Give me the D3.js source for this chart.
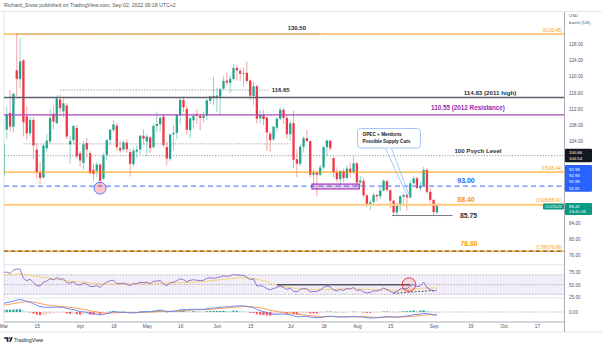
<!DOCTYPE html>
<html>
<head>
<meta charset="utf-8">
<title>Crude Oil WTI – Daily</title>
<script src="https://cdn.jsdelivr.net/npm/d3@7/dist/d3.min.js"></script>
<style>
  html, body { margin: 0; padding: 0; background: #ffffff; }
  svg { display: block; font-family: "Liberation Sans", Arial, "DejaVu Sans", sans-serif; }
</style>
</head>
<body>
<svg id="chart" width="602" height="346"></svg>
<script>
// ---------------- daily sessions, 1 Mar – 2 Sep 2022 ----------------
const open = [95.7,106.9,111.0,107.6,121.5,119.4,124.0,110.2,106.0,109.3,
  102.0,96.3,95.1,102.3,104.0,110.8,108.5,114.3,111.4,112.8,
  103.3,104.3,107.3,101.1,98.7,103.6,101.1,97.0,96.8,98.3,
  94.8,100.7,104.4,106.8,107.9,102.4,102.0,103.7,101.4,98.4,
  101.5,102.0,105.4,104.0,105.0,102.6,107.8,108.2,110.1,102.6,
  99.7,105.8,106.1,110.5,114.2,112.0,106.8,109.2,110.8,110.3,
  109.8,110.4,114.0,115.2,114.9,115.0,117.0,119.0,118.4,119.4,
  122.1,121.4,120.7,120.9,119.0,115.2,117.6,109.7,110.5,109.9,
  105.9,104.5,107.4,109.6,111.8,109.8,105.8,108.5,99.6,98.5,
  102.7,104.8,104.1,95.8,96.3,95.8,97.6,102.6,104.2,99.9,
  96.4,94.7,96.7,95.0,97.3,96.4,98.6,93.9,94.3,90.7,
  88.5,89.1,90.8,90.5,91.9,94.2,92.0,89.4,86.5,88.1,
  90.4,90.9,90.2,93.7,94.9,92.5,93.1,97.0,91.6,89.6,
  86.5];
const high = [106.8,112.5,116.6,116.0,130.5,129.4,124.3,112.6,110.0,110.0,
  103.5,99.0,103.5,105.8,112.0,112.8,115.4,115.6,114.6,113.5,
  105.5,108.0,108.0,101.6,104.1,104.9,101.7,98.5,98.9,98.5,
  101.2,104.6,107.0,109.2,108.6,104.2,104.3,104.5,102.1,102.5,
  103.0,105.6,107.0,105.8,105.4,108.4,111.4,110.2,110.8,103.9,
  106.0,108.0,110.6,114.8,115.0,112.8,110.0,111.0,111.9,110.5,
  111.3,114.4,115.3,119.9,117.2,117.1,120.0,121.0,120.3,123.0,
  122.7,122.0,122.2,123.7,119.3,118.6,118.0,111.8,111.8,110.0,
  106.5,107.8,110.0,112.5,112.2,110.5,109.0,111.5,102.0,103.2,
  105.3,106.9,104.3,97.3,96.7,98.2,102.8,104.5,104.3,100.1,
  97.6,97.0,97.3,98.1,98.7,100.4,98.9,95.4,95.1,91.1,
  89.6,91.4,91.0,92.9,94.7,94.4,92.2,89.6,88.9,90.7,
  91.2,91.1,94.4,95.5,95.3,94.0,97.7,97.4,92.5,89.7,
  88.6];
const low = [95.1,104.5,106.5,106.3,115.2,117.0,105.3,104.5,105.2,99.8,
  94.9,93.5,94.9,101.5,103.5,107.0,108.3,110.9,110.0,104.6,
  98.5,103.3,99.8,97.8,97.0,100.0,95.8,94.3,95.2,92.9,
  94.5,99.3,103.1,106.3,101.8,101.2,101.6,101.2,95.3,97.8,
  99.9,100.7,103.2,100.3,101.1,102.2,106.3,106.4,102.5,98.2,
  99.2,101.8,104.5,108.2,111.2,105.6,104.8,107.0,108.3,106.7,
  108.6,109.2,113.2,113.0,111.2,110.5,116.8,117.8,115.9,118.9,
  119.0,118.9,117.6,118.3,114.1,113.0,108.4,108.5,108.0,101.7,
  101.5,104.1,106.5,109.3,108.3,104.6,104.1,97.4,95.1,98.0,
  101.3,103.6,95.1,93.3,90.6,95.4,97.1,100.4,101.8,95.0,
  93.9,93.0,94.0,94.7,95.1,95.9,93.0,92.8,90.2,87.9,
  87.0,88.2,89.2,89.8,91.7,91.6,87.6,85.7,85.8,86.9,
  88.6,86.9,89.9,93.3,92.3,91.7,92.9,91.1,88.9,85.8,
  86.2];
const close = [103.4,110.6,107.7,115.7,119.4,123.7,108.7,106.0,109.3,103.0,
  96.4,95.0,103.0,104.2,109.8,108.9,114.6,112.2,113.4,105.2,
  104.1,107.8,100.3,99.3,103.3,102.0,96.2,96.0,98.3,94.3,
  100.6,104.3,106.9,108.2,102.6,101.8,103.8,102.1,98.5,101.7,
  102.0,105.4,104.7,105.2,102.4,107.8,108.3,109.8,103.1,99.8,
  105.7,106.1,110.5,114.2,112.4,106.9,109.7,110.3,110.3,109.8,
  110.3,114.1,115.1,114.7,115.3,116.9,118.9,118.5,119.4,122.1,
  121.5,120.7,120.9,118.9,115.3,117.6,109.6,110.5,109.5,106.2,
  104.3,107.6,109.6,111.8,109.8,105.8,108.4,99.5,98.5,102.7,
  104.8,104.1,95.8,96.3,95.8,97.6,102.6,104.2,102.3,96.4,
  94.7,96.7,95.0,97.3,96.4,98.6,93.9,94.4,90.7,88.5,
  89.0,90.8,90.5,91.9,94.3,92.1,89.4,86.5,88.1,90.5,
  90.8,90.2,93.7,94.9,92.5,93.1,97.0,91.6,89.6,86.6,
  88.4];

// RSI(14) and its moving average
const rsi = [75,76,73,80,82,82,63,58,61,54,
  48,47,55,57,62,60,64,61,62,54,
  53,56,50,49,53,51,46,46,48,44,
  51,55,58,59,52,52,53,51,48,52,
  52,55,54,55,52,57,57,59,51,48,
  54,55,58,62,60,56,59,60,59,58,
  59,63,64,63,64,66,68,67,68,71,
  70,69,69,65,60,62,47,48,46,42,
  39,42,44,47,44,40,43,36,35,40,
  42,41,35,36,36,39,44,47,45,39,
  37,40,38,42,41,44,38,39,35,33,
  34,37,37,39,43,40,36,33,36,41,
  42,41,48,50,46,47,55,44,40,36,
  39];
const rsiMa = [70,70,71,71,72,72,71,70,69,68,
  67,66,65,64,63,62,61,60,59,58,
  57,56,56,55,55,54,53,53,52,52,
  51,51,51,51,51,51,51,51,51,51,
  52,52,52,52,52,53,53,53,53,53,
  53,53,53,54,54,54,55,55,55,56,
  56,57,58,59,59,60,61,62,62,63,
  63,64,64,64,63,62,61,60,58,57,
  53,51,49,47,46,45,44,43,42,41,
  41,41,40,40,40,40,40,40,40,40,
  41,41,41,41,41,41,41,41,40,40,
  40,40,39,39,39,39,39,38,38,38,
  39,39,40,41,41,42,43,43,43,43,
  43];

// MACD(12,26,9): line, signal, histogram
const macdLine = [6.0,6.8,7.2,7.8,8.5,9.0,8.4,7.6,7.0,6.0,
  4.8,3.8,3.5,3.3,3.4,3.3,3.5,3.4,3.3,2.6,
  2.0,1.8,1.0,0.3,0.1,-0.2,-0.9,-1.4,-1.6,-2.1,
  -1.8,-1.2,-0.5,0.2,0.0,-0.2,-0.2,-0.3,-0.7,-0.6,
  -0.5,-0.1,0.1,0.3,0.2,0.6,1.0,1.4,1.0,0.3,
  0.4,0.5,0.9,1.6,1.9,1.8,1.9,2.0,2.0,1.9,
  1.9,2.3,2.7,2.9,3.1,3.3,3.6,3.7,3.8,4.2,
  4.4,4.4,4.4,4.1,3.4,3.0,1.8,1.0,0.3,-0.6,
  -1.3,-1.6,-1.6,-1.4,-1.4,-1.8,-1.9,-2.8,-3.4,-3.4,
  -3.2,-3.1,-3.6,-3.9,-4.1,-4.0,-3.6,-3.2,-3.0,-3.2,
  -3.5,-3.5,-3.6,-3.5,-3.4,-3.2,-3.4,-3.4,-3.7,-4.1,
  -4.3,-4.2,-4.1,-3.9,-3.5,-3.3,-3.4,-3.7,-3.7,-3.4,
  -3.1,-2.9,-2.4,-1.9,-1.7,-1.5,-1.0,-1.2,-1.5,-2.0,
  -2.2];
const macdSignal = [4.8,5.2,5.6,6.0,6.5,7.0,7.3,7.4,7.3,7.1,
  6.7,6.1,5.6,5.1,4.7,4.4,4.2,4.0,3.8,3.6,
  3.3,3.0,2.6,2.2,1.8,1.4,0.9,0.5,0.1,-0.4,
  -0.7,-0.8,-0.8,-0.6,-0.5,-0.4,-0.4,-0.3,-0.4,-0.4,
  -0.4,-0.4,-0.3,-0.2,-0.1,0.0,0.2,0.4,0.5,0.5,
  0.5,0.5,0.5,0.7,0.9,1.1,1.3,1.4,1.5,1.6,
  1.7,1.8,1.9,2.1,2.3,2.5,2.7,2.9,3.1,3.3,
  3.5,3.7,3.9,4.0,3.9,3.7,3.4,3.0,2.5,1.9,
  1.3,0.8,0.4,0.0,-0.3,-0.6,-0.8,-1.1,-1.5,-1.9,
  -2.2,-2.4,-2.6,-2.9,-3.1,-3.3,-3.4,-3.4,-3.3,-3.3,
  -3.3,-3.4,-3.4,-3.4,-3.4,-3.4,-3.4,-3.4,-3.4,-3.5,
  -3.7,-3.8,-3.9,-3.9,-3.8,-3.7,-3.6,-3.6,-3.6,-3.6,
  -3.5,-3.4,-3.2,-3.0,-2.7,-2.5,-2.2,-2.0,-1.9,-1.9,
  -2.0];
const macdHist = [1.2,1.6,1.6,1.8,2.0,2.0,1.1,0.2,-0.3,-1.1,
  -1.9,-2.3,-2.1,-1.8,-1.3,-1.1,-0.7,-0.6,-0.5,-1.0,
  -1.3,-1.2,-1.6,-1.9,-1.7,-1.6,-1.8,-1.9,-1.7,-1.7,
  -1.1,-0.4,0.3,0.8,0.5,0.2,0.2,0.0,-0.3,-0.2,
  -0.1,0.3,0.4,0.5,0.3,0.6,0.8,1.0,0.5,-0.2,
  -0.1,0.0,0.4,0.9,1.0,0.7,0.6,0.6,0.5,0.3,
  0.2,0.5,0.8,0.8,0.8,0.8,0.9,0.8,0.7,0.9,
  0.9,0.7,0.5,0.1,-0.5,-0.7,-1.6,-2.0,-2.2,-2.5,
  -2.6,-2.4,-2.0,-1.4,-1.1,-1.2,-1.1,-1.7,-1.9,-1.5,
  -1.0,-0.7,-1.0,-1.0,-1.0,-0.7,-0.2,0.2,0.3,0.1,
  -0.2,-0.1,-0.2,-0.1,0.0,0.2,0.0,0.0,-0.3,-0.6,
  -0.6,-0.4,-0.2,0.0,0.3,0.4,0.2,-0.1,-0.1,0.2,
  0.4,0.5,0.8,1.1,1.0,1.0,1.2,0.8,0.4,-0.1,
  -0.2];

// time axis: label text and the session number it sits on
const timeTicks = ["Mar","15","Apr","18","May","16","Jun","15","Jul","18","Aug","15","Sep","19","Oct","17"];
const timeTickSessions = [0,10,23,33,43,53,64,74,86,96,106,116,129,140,150,160];

// price axis ticks left visible between the badges
const priceTicks = [128,124,120,116,112,108,104,84,80,76];
const rsiTicks = [75,50,25];

// fibonacci retracement levels
const fibLevels = ["0","0.5","0.618","0.786"];
const fibPrices = [130.45, 96.44, 88.41, 76.99];

// right-axis badges
const markerBlack = ["100.66","100.54"];
const markerBlue = ["92.98","92.93","92.88","92.81"];
const lastPrice = 88.42;
const symbol = "CLV2022";
const countdown = "13:41:58";

// ---------------- layout ----------------
const svg = d3.select("#chart");
const paneL = 4, paneR = 564.5;
const mainTop = 12, mainBot = 264;
const rsiTop = 265.5, rsiBot = 297.5;
const macdTop = 298.5, macdBot = 321.5;
const axisX = 569;

const x = d3.scaleLinear().domain([0, 160]).range([3.4, 537]);
const y = d3.scaleLinear().domain([128, 76]).range([44, 255.1]);
const yR = d3.scaleLinear().domain([70, 30]).range([274.9, 294.3]);
const yM = d3.scaleLinear().domain([0, 8.6]).range([312, 300]);

const up = "#22a58f", down = "#f23645";
const upWick = "#93d4c9", downWick = "#f6a2a7";
const orange = "#ff9800";

const defs = svg.append("defs");
[["clipMain", mainTop, mainBot], ["clipRsi", rsiTop, rsiBot], ["clipMacd", macdTop, macdBot]]
  .forEach(([id, t, b]) => defs.append("clipPath").attr("id", id)
    .append("rect").attr("x", paneL).attr("y", t).attr("width", paneR - paneL).attr("height", b - t));

// header
svg.append("text").attr("x", 4).attr("y", 7.3)
  .attr("font-size", 5.2).attr("fill", "#50535e")
  .text("Richard_Snow published on TradingView.com, Sep 02, 2022 09:18 UTC+2");
svg.append("line").attr("x1", 0).attr("x2", 602).attr("y1", 11.5).attr("y2", 11.5)
  .attr("stroke", "#e6e8ee").attr("stroke-width", 1);

// pane frames
const frame = svg.append("g").attr("stroke", "#e0e3eb").attr("stroke-width", 1);
frame.append("line").attr("x1", paneL).attr("x2", paneL).attr("y1", mainTop).attr("y2", macdBot);
frame.append("line").attr("x1", paneL).attr("x2", paneR).attr("y1", 264.8).attr("y2", 264.8);
frame.append("line").attr("x1", paneL).attr("x2", paneR).attr("y1", 298).attr("y2", 298);
frame.append("line").attr("x1", 0).attr("x2", 602).attr("y1", 332).attr("y2", 332);
svg.append("line").attr("x1", paneL).attr("x2", paneR).attr("y1", 322).attr("y2", 322)
  .attr("stroke", "#9598a1").attr("stroke-width", 0.8);
svg.append("line").attr("x1", paneR).attr("x2", paneR).attr("y1", mainTop).attr("y2", 332)
  .attr("stroke", "#9598a1").attr("stroke-width", 0.8);

// ---------------- main pane ----------------
const main = svg.append("g").attr("clip-path", "url(#clipMain)");
const idx = d3.range(close.length);

main.append("g").selectAll("line").data(idx).join("line")
  .attr("x1", i => x(i)).attr("x2", i => x(i))
  .attr("y1", i => y(high[i])).attr("y2", i => y(low[i]))
  .attr("stroke", i => close[i] >= open[i] ? upWick : downWick)
  .attr("stroke-width", 1);
main.append("g").selectAll("rect").data(idx).join("rect")
  .attr("x", i => x(i) - 1.15).attr("width", 2.3)
  .attr("y", i => y(Math.max(open[i], close[i])))
  .attr("height", i => Math.max(0.8, Math.abs(y(open[i]) - y(close[i]))))
  .attr("fill", i => close[i] >= open[i] ? up : down);

const hline = (price, opts) => main.append("line")
  .attr("x1", opts.from !== undefined ? x(opts.from) : paneL)
  .attr("x2", opts.to !== undefined ? x(opts.to) : paneR)
  .attr("y1", y(price)).attr("y2", y(price))
  .attr("stroke", opts.color).attr("stroke-width", opts.width || 1)
  .attr("stroke-dasharray", opts.dash || null);

// fibonacci levels
fibPrices.forEach((p, k) => hline(p, { color: k === 2 ? "#ffb74d" : orange, width: k === 3 ? 1.4 : 1 }));
hline(88.40, { color: "#ffcc80", width: 2.2 });
hline(76.99, { color: "#4a4e5a", width: 1, dash: "4,3" });

// horizontal levels and rays
hline(130.50, { from: 4, to: 95.5, color: "#8a8d97", width: 0.9, dash: "1.2,1.6" });
hline(116.65, { from: 17, to: 79.7, color: "#8a8d97", width: 0.9, dash: "1.2,1.6" });
hline(114.83, { color: "#5d606b", width: 1.6 });
hline(110.55, { color: "#ab47bc", width: 1.2 });
hline(103.40, { from: 6, to: 86, color: "#8a8d97", width: 0.9, dash: "1.2,1.6" });
hline(100.50, { from: 0.5, color: "#8a8d97", width: 0.9, dash: "1.2,1.6" });
hline(93.00, { color: "#5b86f7", width: 1.3, dash: "5,3.5" });
hline(85.75, { from: 116.5, to: 134.7, color: "#787b86", width: 1 });

// consolidation zone
main.append("rect")
  .attr("x", x(92.5)).attr("width", x(106.7) - x(92.5))
  .attr("y", y(93.5)).attr("height", y(92.3) - y(93.5))
  .attr("fill", "rgba(156,39,176,0.22)").attr("stroke", "#9c27b0").attr("stroke-width", 1.1);

// April low marker
main.append("circle").attr("cx", x(29)).attr("cy", y(92.5)).attr("r", 6)
  .attr("fill", "rgba(242,54,69,0.28)").attr("stroke", "#5b7cf7").attr("stroke-width", 1);

// level labels
const label = (txt, xx, yy, o) => svg.append("text")
  .attr("x", xx).attr("y", yy).attr("text-anchor", o.anchor || "middle")
  .attr("font-size", o.size).attr("font-weight", o.weight || "bold")
  .attr("fill", o.color).text(txt);

label("130.50", x(88), y(130.5) - 3.8, { size: 6, color: "#2a2e39" });
label("116.65", x(79.7) + 2.5, y(116.65) + 2.1, { size: 6, color: "#2a2e39", anchor: "start" });
label("114.83 (2011 high)", 490, y(114.83) - 2.6, { size: 6.2, color: "#2a2e39" });
label("110.55 (2012 Resistance)", 468, y(110.55) - 4.6, { size: 6.3, color: "#9c27b0" });
label("100 Psych Level", 478, y(100.5) - 2.5, { size: 6.1, color: "#2a2e39" });
label("93.00", 466, y(93.0) - 3, { size: 7, color: "#2962ff" });
label("88.40", 466, y(88.40) - 2.8, { size: 7, color: orange });
label("85.75", 460, y(85.75) + 2.4, { size: 6.8, color: "#2a2e39", anchor: "start" });
label("78.60", 469, y(76.99) - 5, { size: 6.8, color: orange });
fibLevels.forEach((lv, k) =>
  label(`${lv}(${fibPrices[k].toFixed(2)})`, 562, y(fibPrices[k]) - 2.3,
    { size: 4.5, color: orange, anchor: "end", weight: "normal" }));

// OPEC callout
const co = svg.append("g");
co.append("path")
  .attr("d", `M385.5,148.5 L${x(122) - 2.5},${y(90.4)} M391.5,148.5 L${x(122) - 0.5},${y(90.4)}`)
  .attr("stroke", "#9ec1f7").attr("stroke-width", 0.9).attr("fill", "none");
co.append("rect").attr("x", 357.5).attr("y", 128.5).attr("width", 63).attr("height", 19.5)
  .attr("rx", 3).attr("fill", "#ffffff").attr("stroke", "#9ec1f7").attr("stroke-width", 0.9);
co.append("text").attr("x", 362.5).attr("y", 136.3).attr("font-size", 4.7).attr("font-weight", "bold")
  .attr("fill", "#131722").text("OPEC + Mentions");
co.append("text").attr("x", 362.5).attr("y", 142.8).attr("font-size", 4.7).attr("font-weight", "bold")
  .attr("fill", "#131722").text("Possible Supply Cuts");

// ---------------- RSI pane ----------------
const rsiG = svg.append("g").attr("clip-path", "url(#clipRsi)");
rsiG.append("rect").attr("x", paneL).attr("width", paneR - paneL)
  .attr("y", yR(70)).attr("height", yR(30) - yR(70)).attr("fill", "rgba(126,87,194,0.1)");
[70, 50, 30].forEach(v => rsiG.append("line").attr("x1", paneL).attr("x2", paneR)
  .attr("y1", yR(v)).attr("y2", yR(v)).attr("stroke", "#9598a1")
  .attr("stroke-width", 0.8).attr("stroke-dasharray", "1.3,1.6"));
rsiG.append("path").datum(idx)
  .attr("d", d3.line().x(i => x(i)).y(i => yR(rsiMa[i])))
  .attr("fill", "none").attr("stroke", "#f5cf6a").attr("stroke-width", 0.9);
rsiG.append("path").datum(idx)
  .attr("d", d3.line().x(i => x(i)).y(i => yR(rsi[i])))
  .attr("fill", "none").attr("stroke", "#7e57c2").attr("stroke-width", 0.8);
rsiG.append("line").attr("x1", x(82)).attr("x2", x(122))
  .attr("y1", yR(49.5)).attr("y2", yR(49.5)).attr("stroke", "#131722").attr("stroke-width", 1);
rsiG.append("line").attr("x1", x(117)).attr("x2", x(129))
  .attr("y1", yR(32)).attr("y2", yR(38)).attr("stroke", "#434651")
  .attr("stroke-width", 0.9).attr("stroke-dasharray", "2,1.5");
rsiG.append("circle").attr("cx", x(121.6)).attr("cy", yR(50)).attr("r", 6.8)
  .attr("fill", "rgba(242,54,69,0.12)").attr("stroke", "#f23645").attr("stroke-width", 1);

// ---------------- MACD pane ----------------
const macdG = svg.append("g").attr("clip-path", "url(#clipMacd)");
macdG.append("line").attr("x1", paneL).attr("x2", paneR).attr("y1", yM(0)).attr("y2", yM(0))
  .attr("stroke", "#9598a1").attr("stroke-width", 0.8).attr("stroke-dasharray", "1.3,1.6");
macdG.append("g").selectAll("rect").data(idx).join("rect")
  .attr("x", i => x(i) - 1.1).attr("width", 2.2)
  .attr("y", i => Math.min(yM(macdHist[i]), yM(0)))
  .attr("height", i => Math.abs(yM(macdHist[i]) - yM(0)))
  .attr("fill", i => {
    const v = macdHist[i], p = i > 0 ? macdHist[i - 1] : v;
    return v >= 0 ? (v >= p ? "#26a69a" : "#b2dfdb") : (v <= p ? "#ff5252" : "#ffcdd2");
  });
macdG.append("path").datum(idx)
  .attr("d", d3.line().x(i => x(i)).y(i => yM(macdSignal[i])))
  .attr("fill", "none").attr("stroke", "#ff8f40").attr("stroke-width", 0.9);
macdG.append("path").datum(idx)
  .attr("d", d3.line().x(i => x(i)).y(i => yM(macdLine[i])))
  .attr("fill", "none").attr("stroke", "#5b80f5").attr("stroke-width", 0.9);

// ---------------- axes ----------------
const axisText = (sel, size) => sel.call(g => g.select(".domain").remove())
  .selectAll("text").attr("font-size", size).attr("fill", "#50535e")
  .attr("font-family", "\"Liberation Sans\", Arial, sans-serif");

svg.append("g").attr("transform", `translate(${axisX - 1},0)`)
  .call(d3.axisRight(y).tickValues(priceTicks).tickFormat(d3.format(".2f")).tickSize(0).tickPadding(1))
  .call(g => axisText(g, 4.6));
svg.append("g").attr("transform", `translate(${axisX - 1},0)`)
  .call(d3.axisRight(yR).tickValues(rsiTicks).tickFormat(d3.format(".2f")).tickSize(0).tickPadding(1))
  .call(g => axisText(g, 4.6));
svg.append("g").attr("transform", `translate(${axisX - 1},0)`)
  .call(d3.axisRight(yM).tickValues([0]).tickFormat(d3.format(".2f")).tickSize(0).tickPadding(1))
  .call(g => axisText(g, 4.6));
svg.append("g").attr("transform", "translate(0,324)")
  .call(d3.axisBottom(x).tickValues(timeTickSessions).tickFormat((d, k) => timeTicks[k]).tickSize(0).tickPadding(1))
  .call(g => axisText(g, 4.8));

svg.append("text").attr("x", axisX).attr("y", 16.5).attr("font-size", 4.4).attr("fill", "#50535e").text("USD");
svg.append("text").attr("x", axisX).attr("y", 23.5).attr("font-size", 4.4).attr("fill", "#50535e").text("barrel (US)");

// right-axis badges
const badge = (rows, top, color, step) => {
  const h = rows.length * step + 1.4;
  svg.append("rect").attr("x", paneR + 0.5).attr("y", top).attr("width", 27).attr("height", h)
    .attr("rx", 1).attr("fill", color);
  rows.forEach((t, k) => svg.append("text").attr("x", axisX).attr("y", top + step - 0.6 + k * step)
    .attr("font-size", 4.3).attr("fill", "#ffffff").text(t));
};
badge(markerBlack, y(100.6) - 6.4, "#131722", 6);
badge(markerBlue, y(93) - 21, "#2962ff", 6.3);
badge([lastPrice.toFixed(2), countdown], y(lastPrice) - 1.8, "#089981", 5.4);
svg.append("rect").attr("x", 543).attr("y", y(lastPrice) - 1.2).attr("width", 21).attr("height", 6)
  .attr("rx", 1).attr("fill", "#089981");
svg.append("text").attr("x", 553.5).attr("y", y(lastPrice) + 3.4).attr("text-anchor", "middle")
  .attr("font-size", 4.2).attr("fill", "#ffffff").text(symbol);

// footer logo
const logo = svg.append("g").attr("fill", "#131722");
logo.append("path").attr("d", "M4.2,337.2 h4.2 v4.6 h-1.7 v-3 h-2.5 z");
logo.append("circle").attr("cx", 9.6).attr("cy", 338).attr("r", 0.8);
logo.append("path").attr("d", "M10.9,337.2 h1.9 l-1.9,4.6 h-1.9 z");
svg.append("text").attr("x", 14).attr("y", 341.6).attr("font-size", 5.3).attr("fill", "#131722")
  .text("TradingView");
</script>
</body>
</html>
